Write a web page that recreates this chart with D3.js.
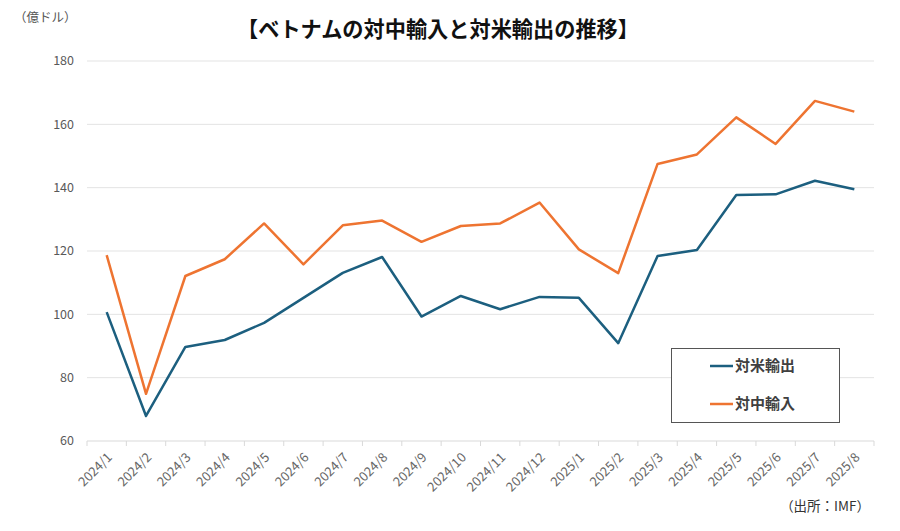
<!DOCTYPE html>
<html>
<head>
<meta charset="utf-8">
<script src="https://cdn.jsdelivr.net/npm/d3@7/dist/d3.min.js"></script>
<style>
  html, body { margin: 0; padding: 0; background: #fff; }
  svg { display: block; font-family: "Noto Sans CJK JP", "Noto Sans", sans-serif; }
</style>
</head>
<body>
<svg id="chart" width="900" height="531"></svg>
<script>
// Monthly series, 億ドル.
const months = [
  "2024/1", "2024/2", "2024/3", "2024/4", "2024/5", "2024/6", "2024/7", "2024/8",
  "2024/9", "2024/10", "2024/11", "2024/12", "2025/1", "2025/2", "2025/3", "2025/4",
  "2025/5", "2025/6", "2025/7", "2025/8"
];
const exportsUS = [
  100.7, 67.9, 89.7, 91.9, 97.3, 105.2, 113.1, 118.1,
  99.3, 105.8, 101.6, 105.5, 105.2, 90.9, 118.4, 120.3,
  137.7, 137.9, 142.2, 139.5
];
const importsCN = [
  118.7, 74.9, 112.1, 117.4, 128.7, 115.8, 128.1, 129.6,
  122.9, 127.9, 128.7, 135.3, 120.5, 113.0, 147.5, 150.5,
  162.2, 153.8, 167.4, 164.0
];
const yTicks = [60, 80, 100, 120, 140, 160, 180];

const series = [
  { name: "対米輸出", values: exportsUS, colour: "#1c5f7f" },
  { name: "対中輸入", values: importsCN, colour: "#ee7431" },
];

const svg = d3.select("#chart");
const margin = { left: 87, right: 26, top: 61, bottom: 90 };
const width = 900, height = 531;

const x = d3.scaleBand().domain(months).range([margin.left, width - margin.right]);
const y = d3.scaleLinear().domain([60, 180]).range([height - margin.bottom, margin.top]);

// Gridlines.
svg.append("g")
  .selectAll("line")
  .data(yTicks.filter((t) => t !== 60))
  .join("line")
  .attr("x1", margin.left).attr("x2", width - margin.right)
  .attr("y1", (d) => y(d)).attr("y2", (d) => y(d))
  .attr("stroke", "#e3e3e3").attr("stroke-width", 1);

// Y tick labels.
svg.append("g")
  .selectAll("text")
  .data(yTicks)
  .join("text")
  .attr("x", 74).attr("y", (d) => y(d))
  .attr("dy", "0.35em")
  .attr("text-anchor", "end")
  .attr("font-size", 12.5)
  .attr("fill", "#595959")
  .text((d) => d);

// Bottom axis: line plus ticks at category boundaries.
const base = y(60);
svg.append("line")
  .attr("x1", margin.left).attr("x2", width - margin.right)
  .attr("y1", base).attr("y2", base)
  .attr("stroke", "#d9d9d9").attr("stroke-width", 1);
const bounds = months.map((m) => x(m)).concat([x(months[months.length - 1]) + x.bandwidth()]);
svg.append("g")
  .selectAll("line")
  .data(bounds)
  .join("line")
  .attr("x1", (d) => d).attr("x2", (d) => d)
  .attr("y1", base).attr("y2", base + 5)
  .attr("stroke", "#d9d9d9");

// X labels, rotated.
svg.append("g")
  .selectAll("text")
  .data(months)
  .join("text")
  .attr("transform", (d) => `translate(${x(d) + x.bandwidth() / 2 + 3},${base + 14}) rotate(-45)`)
  .attr("text-anchor", "end")
  .attr("dy", "0.35em")
  .attr("font-size", 13)
  .attr("fill", "#666")
  .text((d) => d);

// Lines.
const line = d3.line()
  .x((d, i) => x(months[i]) + x.bandwidth() / 2)
  .y((d) => y(d));
svg.append("g")
  .selectAll("path")
  .data(series)
  .join("path")
  .attr("d", (s) => line(s.values))
  .attr("fill", "none")
  .attr("stroke", (s) => s.colour)
  .attr("stroke-width", 2.5)
  .attr("stroke-linejoin", "round");

// Legend box.
const lg = svg.append("g");
lg.append("rect")
  .attr("x", 671.5).attr("y", 348.5).attr("width", 168).attr("height", 74)
  .attr("fill", "#fff").attr("stroke", "#555").attr("stroke-width", 1);
series.forEach((s, i) => {
  const ly = 366 + i * 38;
  lg.append("line")
    .attr("x1", 710).attr("x2", 733).attr("y1", ly).attr("y2", ly)
    .attr("stroke", s.colour).attr("stroke-width", 2.5);
  lg.append("text")
    .attr("x", 735).attr("y", ly).attr("dy", "0.35em")
    .attr("font-size", 15).attr("font-weight", 700).attr("fill", "#404040")
    .text(s.name);
});

// Title, unit, source.
svg.append("text")
  .attr("x", 438).attr("y", 30).attr("dy", "0.35em")
  .attr("text-anchor", "middle")
  .attr("font-size", 21.2).attr("font-weight", 700).attr("fill", "#111")
  .text("【ベトナムの対中輸入と対米輸出の推移】");
svg.append("text")
  .attr("x", 14).attr("y", 18).attr("dy", "0.35em")
  .attr("font-size", 12.5).attr("fill", "#555")
  .text("（億ドル）");
svg.append("text")
  .attr("x", 870).attr("y", 506).attr("dy", "0.35em")
  .attr("text-anchor", "end")
  .attr("font-size", 13.5).attr("fill", "#333")
  .text("（出所：IMF）");
</script>
</body>
</html>
